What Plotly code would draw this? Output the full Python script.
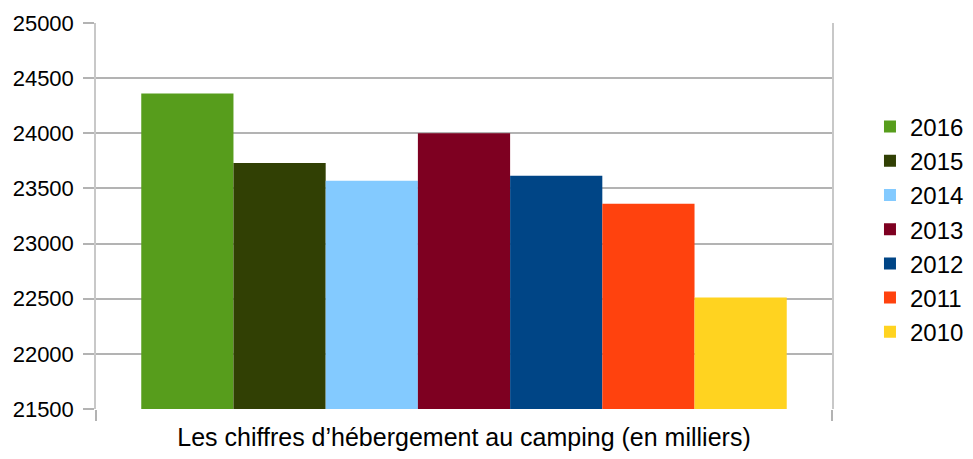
import plotly.graph_objects as go

categories = [""]
years = ["2016", "2015", "2014", "2013", "2012", "2011", "2010"]
values = [24360, 23730, 23570, 24000, 23615, 23360, 22510]
colors = ["#579d1c", "#314004", "#83caff", "#7e0021", "#004586", "#ff420e", "#ffd320"]
y_ticks = [21500, 22000, 22500, 23000, 23500, 24000, 24500, 25000]
x_title = "Les chiffres d’hébergement au camping (en milliers)"

fig = go.Figure()
for yr, v, c in zip(years, values, colors):
    fig.add_trace(go.Bar(x=categories, y=[v], name=yr, marker=dict(color=c, line=dict(width=0))))

FONT = "Liberation Sans, Arial, sans-serif"
fig.update_layout(
    width=981, height=443,
    margin=dict(l=88, r=157, t=15, b=42),
    paper_bgcolor="white", plot_bgcolor="white",
    barmode="group", bargap=0.123, bargroupgap=0,
    font=dict(family=FONT, size=23, color="black"),
    legend=dict(x=1.0516, y=0.465, yanchor="middle", xanchor="left",
                font=dict(family=FONT, size=24, color="black"),
                traceorder="normal", bgcolor="rgba(0,0,0,0)"),
    xaxis=dict(type="category", showticklabels=False, ticks="outside", tickson="boundaries",
               ticklen=11, tickcolor="#b3b3b3", tickwidth=1.5,
               showline=False, showgrid=False, automargin=False,
               title=dict(text=x_title, font=dict(family=FONT, size=25, color="black"), standoff=22)),
    yaxis=dict(range=[21500, 25000], tickvals=y_ticks, ticktext=[str(t) for t in y_ticks],
               showgrid=True, gridcolor="#b3b3b3", gridwidth=1.5,
               ticks="outside", ticklen=11, tickcolor="#b3b3b3", tickwidth=1.5,
               ticklabelstandoff=5, automargin=False,
               showline=True, linecolor="#c8c8c8", linewidth=1.5, mirror=True,
               zeroline=False, tickfont=dict(family=FONT, size=22, color="black")),
)

fig.write_html("out.html")
